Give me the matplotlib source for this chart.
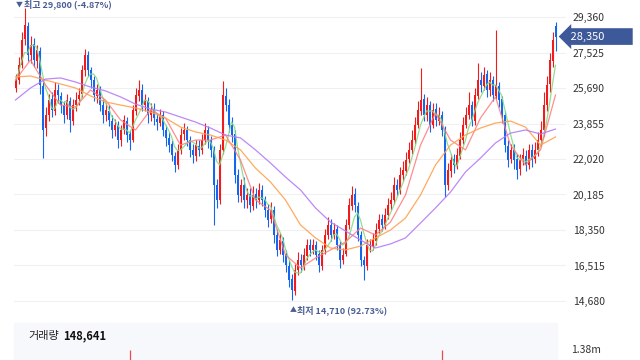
import numpy as np
import pandas as pd
import matplotlib
matplotlib.use('Agg')
import matplotlib.pyplot as plt
import matplotlib.transforms as mtransforms
from matplotlib.patches import Rectangle

plt.rcParams['font.family'] = ['Noto Sans CJK KR', 'DejaVu Sans']

# daily candles (KRW)
opens = [25700, 26100, 26900, 28200, 28900, 27400, 27950, 27100, 27600, 25800,
         23600, 24300, 25100, 24500, 25600, 25300, 24800, 24300, 25000, 24000,
         24800, 25100, 25400, 26600, 27400, 26600, 26100, 25300, 25600, 24800,
         24300, 24500, 24000, 23500, 23800, 23000, 23500, 24000, 23300, 23000,
         24500, 25300, 25600, 24800, 25000, 24300, 24600, 24100, 23900, 24300,
         23500, 23100, 22800, 22200, 21700, 22500, 23300, 23500, 23000, 22500,
         22200, 22700, 22500, 23000, 23500, 23000, 22500, 20700, 19900, 22500,
         25300, 24800, 23800, 23300, 21200, 20100, 20700, 19900, 20200, 19600,
         20200, 19900, 20400, 19900, 19400, 18900, 19400, 18100, 17300, 17800,
         17100, 16500, 15800, 15200, 16300, 16800, 16500, 17000, 17600, 17300,
         17600, 17100, 16500, 17300, 18100, 18600, 18100, 18400, 17600, 16800,
         17100, 18600, 19600, 20200, 19600, 18100, 16800, 16500, 17500, 17500,
         17800, 18400, 18900, 18600, 19100, 19700, 19900, 20700, 20400, 21200,
         21400, 22000, 22500, 23000, 23800, 24500, 25100, 24300, 24800, 23800,
         24600, 24000, 24300, 23500, 20700, 21400, 22000, 21700, 22200, 23000,
         23800, 24300, 24800, 24000, 25300, 26100, 25800, 26400, 25600, 26100,
         25300, 25800, 25100, 24300, 22700, 22000, 22500, 22000, 21500, 22000,
         22200, 21700, 22500, 22000, 22500, 23000, 23500, 24800, 25900, 27100, 28900]
highs = [26400, 27300, 28600, 29800, 29100, 28400, 28300, 27900, 27800, 26000,
         24700, 25400, 25500, 26000, 25900, 25500, 25000, 25400, 25200, 25100,
         25500, 25700, 26900, 27710, 27600, 26800, 26300, 25900, 25800, 25100,
         24900, 24800, 24300, 24100, 24000, 23800, 24300, 24200, 23500, 24800,
         25700, 26100, 25900, 25400, 25200, 24900, 24900, 24400, 24600, 24500,
         23800, 23400, 23000, 22400, 22800, 23600, 23900, 23700, 23200, 22800,
         23000, 23000, 23300, 23900, 23700, 23200, 22700, 21000, 22800, 26050,
         25700, 25100, 24200, 23500, 21500, 21000, 21100, 20500, 20500, 20600,
         20500, 20800, 20700, 20100, 19700, 19800, 19600, 18400, 18200, 18000,
         17300, 16800, 16100, 16600, 17200, 17100, 17400, 17900, 17900, 17900,
         17800, 17300, 17600, 18400, 19000, 18900, 18700, 18600, 17800, 17400,
         18900, 20000, 20620, 20500, 19800, 18300, 17000, 17900, 17900, 18200,
         18700, 19200, 19200, 19500, 20000, 20300, 21100, 21000, 21600, 21900,
         22400, 22900, 23500, 24200, 25000, 26720, 25400, 25200, 25000, 24900,
         24900, 24700, 24500, 23700, 21800, 22300, 22300, 22600, 23400, 24200,
         24700, 25500, 25000, 25700, 27000, 26500, 26800, 26600, 26500, 26300,
         28690, 26000, 25300, 24500, 23000, 22800, 22800, 22300, 22300, 22600,
         22500, 22800, 22800, 22900, 23400, 24000, 25500, 26300, 27500, 28600, 29100]
lows = [25500, 25900, 26700, 27900, 27100, 27000, 26800, 26700, 25400, 22070,
        23200, 24000, 24200, 24300, 24900, 24400, 23900, 24100, 23400, 23800,
        24500, 24800, 25200, 26300, 26300, 25700, 25000, 24900, 24500, 23900,
        24000, 23700, 23100, 23200, 22600, 22700, 23300, 22900, 22500, 22900,
        24300, 25000, 24500, 24500, 23900, 24000, 23800, 23500, 23700, 23200,
        22700, 22400, 21900, 21350, 21500, 22300, 23000, 22700, 22100, 21800,
        21900, 22200, 22300, 22800, 22600, 22100, 18610, 19500, 19700, 22300,
        24500, 23400, 22900, 20800, 19800, 19800, 19500, 19500, 19300, 19400,
        19500, 19700, 19600, 19000, 18500, 18700, 17700, 17000, 17100, 16700,
        16200, 15400, 14710, 15000, 16000, 16200, 16300, 16800, 17000, 17100,
        16800, 16200, 16300, 17100, 17900, 17800, 17900, 17300, 16400, 16600,
        17000, 18400, 19400, 19300, 17800, 16500, 15770, 16300, 17200, 17300,
        17600, 18200, 18300, 18400, 18900, 19400, 19700, 20100, 20200, 20900,
        21200, 21800, 22300, 22800, 23600, 24300, 24000, 24000, 23400, 23600,
        23700, 23800, 23200, 20050, 20400, 21100, 21300, 21500, 22000, 22800,
        23600, 24100, 23700, 23800, 25100, 25500, 25600, 25200, 25300, 25000,
        25100, 24700, 23900, 22400, 21600, 21800, 21500, 21000, 21200, 21700,
        21400, 21500, 21600, 21800, 22200, 22700, 23200, 24500, 25500, 26800, 27600]
closes = [26100, 26880, 28170, 28950, 27400, 27910, 27140, 27650, 25850, 23520,
          24290, 25070, 24550, 25590, 25330, 24810, 24290, 25070, 24040, 24810,
          25070, 25330, 26620, 27400, 26620, 26100, 25330, 25590, 24810, 24290,
          24550, 24040, 23520, 23780, 23000, 23520, 24040, 23260, 23000, 24550,
          25330, 25590, 24810, 25070, 24290, 24550, 24140, 23930, 24290, 23520,
          23110, 22740, 22230, 21710, 22490, 23260, 23520, 23000, 22490, 22230,
          22740, 22490, 23000, 23520, 23000, 22490, 20680, 19900, 22490, 25330,
          24810, 23780, 23260, 21190, 20160, 20680, 19900, 20160, 19640, 20160,
          19900, 20420, 19900, 19380, 18870, 19380, 18090, 17320, 17830, 17060,
          16540, 15770, 15250, 16280, 16800, 16540, 17060, 17580, 17320, 17580,
          17060, 16540, 17320, 18090, 18610, 18090, 18350, 17580, 16800, 17060,
          18610, 19640, 20160, 19640, 18090, 16800, 16540, 17580, 17580, 17830,
          18350, 18870, 18610, 19130, 19640, 19900, 20680, 20420, 21190, 21450,
          21970, 22490, 23000, 23780, 24550, 25070, 24290, 24810, 23780, 24550,
          24040, 24290, 23520, 20680, 21450, 21970, 21710, 22230, 23000, 23780,
          24290, 24810, 24040, 25330, 26100, 25850, 26360, 25590, 26100, 25330,
          25850, 25070, 24290, 22740, 21970, 22490, 21970, 21450, 21970, 22230,
          21710, 22490, 21970, 22490, 23000, 23520, 24810, 25850, 27140, 28170, 28350]

# moving averages read every 5 candles (they run on from data before the window)
ma_idx = list(range(0, 181, 5))
ma20 = [26100, 27140, 25850, 24810, 24710, 25590, 25070, 24040, 23520, 24550,
        24140, 22740, 23000, 23000, 23260, 21970, 19900, 19380, 17060, 16390,
        16900, 17320, 17730, 18450, 18090, 18760, 20160, 22740, 24400, 23000,
        22490, 24140, 25230, 22740, 21710, 22490, 25330]
ma60 = [26260, 26310, 26100, 25900, 25690, 25280, 24970, 24810, 24660, 24450,
        24140, 23670, 23420, 23260, 23000, 22490, 21550, 20830, 19900, 18610,
        17940, 17420, 17320, 17520, 17940, 18350, 18970, 20160, 21710, 22740,
        23260, 23620, 23880, 23980, 23670, 22740, 23160]
ma120 = [25070, 25690, 26150, 26210, 26000, 25740, 25540, 25230, 24860, 24600,
         24450, 24190, 23930, 23620, 23260, 23110, 22490, 21810, 21090, 20420,
         19490, 18760, 18300, 17830, 17420, 17630, 17940, 18710, 19490, 20310,
         21350, 22070, 22850, 23360, 23520, 23310, 23570]

yticks = [14680, 16515, 18350, 20185, 22020, 23855, 25690, 27525, 29360]

# only the tallest volume bars poke into the visible strip
vol_idx = [38, 142]
vol_vals = [1340000, 1390000]

UP = '#f21b1b'
DOWN = '#1466ee'

fig = plt.figure(figsize=(6.4, 3.6), dpi=100)

# volume strip (drawn first, underneath)
fig.patches.append(Rectangle((14/640, 0), 543/640, 37/360, transform=fig.transFigure,
                             color='#f7f8fc', zorder=-5))
axv = fig.add_axes([14/640, 0, 552/640, 37/360])
axv.vlines(vol_idx, 0, vol_vals, colors='#ec4a4a', linewidth=0.9)
axv.set_xlim(-0.5, 183.5)
axv.set_ylim(0, 5106000)
axv.axis('off')

ax = fig.add_axes([14/640, 1-318/360, 552/640, 318/360])

x = np.arange(len(closes))
o = np.array(opens); c = np.array(closes)
h = np.array(highs); l = np.array(lows)
cols = [UP if cc >= oo else DOWN for oo, cc in zip(o, c)]

ax.vlines(x, l, h, colors=cols, linewidth=0.8, zorder=2)
ax.bar(x, np.maximum(np.abs(c - o), 40), bottom=np.minimum(o, c), width=0.62,
       color=cols, linewidth=0, zorder=2)

ma5 = pd.Series(closes).rolling(5, min_periods=1).mean()
ax.plot(x, ma5, color='#86dc86', lw=0.9, alpha=0.9, zorder=3)
ax.plot(ma_idx, ma20, color='#ff7a7a', lw=0.9, alpha=0.85, zorder=3)
ax.plot(ma_idx, ma60, color='#ffa14d', lw=0.9, alpha=0.9, zorder=3)
ax.plot(ma_idx, ma120, color='#b57cf7', lw=0.9, alpha=0.9, zorder=3)

ax.set_xlim(-0.5, 183.5)
ax.set_ylim(13801, 30239)
ax.set_yticks(yticks)
ax.set_yticklabels(['{:,}'.format(v) for v in yticks])
ax.yaxis.tick_right()
ax.tick_params(axis='y', length=0, pad=5, labelsize=7.5, labelcolor='#333333')
ax.set_xticks([])
ax.grid(axis='y', color='#eef0f4', linewidth=0.8, zorder=0)
for s in ax.spines.values():
    s.set_visible(False)
ax.set_facecolor('none')

# high / low markers
blue_txt = '#4a5e96'
ax.annotate('▼', xy=(3, 29800), xytext=(-6, 3), textcoords='offset points',
            fontsize=5, color=blue_txt, va='center', ha='left')
ax.annotate('최고 29,800 (-4.87%)', xy=(3, 29800), xytext=(0, 3),
            textcoords='offset points', fontsize=6.5, color=blue_txt,
            va='center', ha='left', fontweight='bold')
ax.annotate('▲', xy=(92, 14710), xytext=(-1, -7), textcoords='offset points',
            fontsize=5, color=blue_txt, va='center', ha='left')
ax.annotate('최저 14,710 (92.73%)', xy=(92, 14710), xytext=(4, -7),
            textcoords='offset points', fontsize=6.5, color=blue_txt,
            va='center', ha='left', fontweight='bold')

# current price tag
tr = mtransforms.blended_transform_factory(fig.transFigure, ax.transData)
fig.text(568/640, closes[-1], ' 28,350          ', transform=tr, fontsize=8,
         color='white', va='center', ha='left',
         bbox=dict(boxstyle='larrow,pad=0.3', fc='#3d5999', ec='none'))

fig.text(28/640, 1-336/360, '거래량', fontsize=8, color='#222222', va='center')
fig.text(63/640, 1-336/360, '148,641', fontsize=8, color='#111111',
         va='center', fontweight='bold')
fig.text(571/640, 1-350/360, '1.38m', fontsize=7.5, color='#333333', va='center')

fig.savefig('out.png', dpi=100)
